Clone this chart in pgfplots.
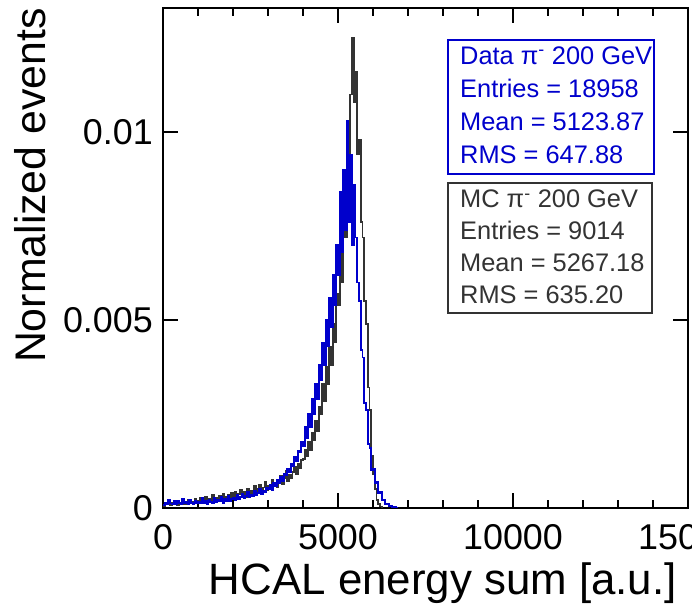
\documentclass[border=0pt]{standalone}
\usepackage{fontspec}
\setmainfont{Liberation Sans}
\usepackage{pgfplots}
\pgfplotsset{compat=1.18}
\definecolor{datablue}{RGB}{0,0,204}
\definecolor{mcgray}{RGB}{51,51,51}
\begin{document}
\begin{tikzpicture}
\begin{axis}[
    at={(163bp,98bp)}, anchor=south west,
    scale only axis, width=525bp, height=500bp,
    xmin=0, xmax=15000, ymin=0, ymax=0.0133,
    axis line style={line width=2bp},
    every tick/.style={black, line width=1.5bp},
    major tick length=15bp, minor tick length=8bp,
    xtick={0,5000,10000,15000}, minor x tick num=4,
    ytick={0,0.005,0.01},
    scaled x ticks=false, scaled y ticks=false,
    /pgf/number format/assume math mode=true,
    tick label style={font=\fontsize{36}{38}\selectfont, inner sep=0pt},
    x tick label style={/pgf/number format/1000 sep={}, anchor=north, yshift=-16bp},
    y tick label style={/pgf/number format/fixed, /pgf/number format/precision=3, anchor=east, xshift=-10bp},
    xlabel={HCAL energy sum [a.u.]},
    ylabel={Normalized events},
    xlabel style={at={(axis description cs:0.979,-0.174)}, anchor=base east, inner sep=0pt, font=\fontsize{44}{46}\selectfont},
    ylabel style={at={(axis description cs:-0.253,1.0)}, anchor=east, inner sep=0pt, font=\fontsize{43}{45}\selectfont},
]
% MC pi- 200 GeV
\addplot[mcgray, line width=1.6bp, const plot mark left] coordinates {
(0,0.00006)(50,0.00012)(100,0.00009)(150,0.00016)(200,0.00007)(250,0.00013)(300,0.00010)(350,0.00018)(400,0.00008)(450,0.00014)
(500,0.00011)(550,0.00019)(600,0.00009)(650,0.00015)(700,0.00022)(750,0.00012)(800,0.00017)(850,0.00010)(900,0.00025)(950,0.00014)
(1000,0.00018)(1050,0.00028)(1100,0.00013)(1150,0.00022)(1200,0.00030)(1250,0.00016)(1300,0.00024)(1350,0.00019)(1400,0.00034)(1450,0.00021)
(1500,0.00026)(1550,0.00017)(1600,0.00032)(1650,0.00024)(1700,0.00038)(1750,0.00020)(1800,0.00029)(1850,0.00036)(1900,0.00023)(1950,0.00040)
(2000,0.00031)(2050,0.00044)(2100,0.00027)(2150,0.00038)(2200,0.00048)(2250,0.00033)(2300,0.00042)(2350,0.00030)(2400,0.00052)(2450,0.00037)
(2500,0.00045)(2550,0.00036)(2600,0.00058)(2650,0.00041)(2700,0.00050)(2750,0.00062)(2800,0.00044)(2850,0.00055)(2900,0.00070)(2950,0.00048)
(3000,0.00058)(3050,0.00052)(3100,0.00075)(3150,0.00060)(3200,0.00068)(3250,0.00055)(3300,0.00072)(3350,0.00085)(3400,0.00062)(3450,0.00078)
(3500,0.00100)(3550,0.00072)(3600,0.00088)(3650,0.00080)(3700,0.00095)(3750,0.00110)(3800,0.00090)(3850,0.00118)(3900,0.00105)(3950,0.00128)
(4000,0.00130)(4050,0.00155)(4100,0.00138)(4150,0.00175)(4200,0.00155)(4250,0.00200)(4300,0.00180)(4350,0.00232)(4400,0.00205)(4450,0.00270)
(4500,0.00250)(4550,0.00330)(4600,0.00285)(4650,0.00375)(4700,0.00330)(4750,0.00430)(4800,0.00380)(4850,0.00490)(4900,0.00440)(4950,0.00570)
(5000,0.0054)(5050,0.0070)(5100,0.0060)(5150,0.0080)(5200,0.0072)(5250,0.0092)(5300,0.0086)(5350,0.0110)(5400,0.0125)(5450,0.0108)
(5500,0.0116)(5550,0.0094)(5600,0.0098)(5650,0.0076)(5700,0.0072)(5750,0.0055)(5800,0.0049)(5850,0.0032)(5900,0.0026)(5950,0.0014)
(6000,0.0009)(6050,0.0005)(6100,0.00022)(6150,0.0001)(6200,0.00004)(6250,0)
};
% Data pi- 200 GeV
\addplot[datablue, line width=1.6bp, const plot mark left] coordinates {
(0,0.00008)(50,0.00015)(100,0.00010)(150,0.00022)(200,0.00012)(250,0.00009)(300,0.00018)(350,0.00011)(400,0.00020)(450,0.00013)
(500,0.00010)(550,0.00024)(600,0.00012)(650,0.00016)(700,0.00009)(750,0.00021)(800,0.00014)(850,0.00011)(900,0.00019)(950,0.00013)
(1000,0.00017)(1050,0.00012)(1100,0.00026)(1150,0.00014)(1200,0.00020)(1250,0.00011)(1300,0.00023)(1350,0.00016)(1400,0.00013)(1450,0.00027)
(1500,0.00015)(1550,0.00022)(1600,0.00018)(1650,0.00030)(1700,0.00014)(1750,0.00025)(1800,0.00019)(1850,0.00033)(1900,0.00017)(1950,0.00024)
(2000,0.00028)(2050,0.00020)(2100,0.00035)(2150,0.00023)(2200,0.00030)(2250,0.00038)(2300,0.00025)(2350,0.00032)(2400,0.00042)(2450,0.00029)
(2500,0.00036)(2550,0.00031)(2600,0.00045)(2650,0.00034)(2700,0.00040)(2750,0.00052)(2800,0.00038)(2850,0.00047)(2900,0.00041)(2950,0.00055)
(3000,0.00050)(3050,0.00062)(3100,0.00048)(3150,0.00068)(3200,0.00058)(3250,0.00075)(3300,0.00066)(3350,0.00082)(3400,0.00071)(3450,0.00090)
(3500,0.00088)(3550,0.00105)(3600,0.00095)(3650,0.00118)(3700,0.00110)(3750,0.00135)(3800,0.00125)(3850,0.00152)(3900,0.00148)(3950,0.00175)
(4000,0.00165)(4050,0.00215)(4100,0.00185)(4150,0.00250)(4200,0.00215)(4250,0.00290)(4300,0.00250)(4350,0.00330)(4400,0.00290)(4450,0.00380)
(4500,0.00340)(4550,0.00440)(4600,0.00380)(4650,0.00500)(4700,0.00430)(4750,0.00560)(4800,0.00480)(4850,0.00620)(4900,0.00540)(4950,0.00700)
(5000,0.0062)(5050,0.0084)(5100,0.0068)(5150,0.0090)(5200,0.0074)(5250,0.0103)(5300,0.0076)(5350,0.0094)(5400,0.0070)(5450,0.0086)
(5500,0.0072)(5550,0.0060)(5600,0.0055)(5650,0.0042)(5700,0.0040)(5750,0.0028)(5800,0.0026)(5850,0.0017)(5900,0.0016)(5950,0.0010)
(6000,0.00105)(6050,0.00065)(6100,0.00070)(6150,0.00040)(6200,0.00042)(6250,0.00022)(6300,0.00022)(6350,0.00010)(6400,0.00010)(6450,0.00005)
(6500,0.00005)(6550,0.00002)(6600,0.00003)(6650,0)(6700,0)
};
\end{axis}
% stat boxes
\draw[datablue, line width=1.5bp] (448bp,566bp) rectangle (654bp,432bp);
\begin{scope}[every node/.style={anchor=base west, inner sep=0pt, font=\fontsize{25.5}{27}\selectfont}]
\node[text=datablue] at (460bp,541bp) {Data π\textsuperscript{-} 200 GeV};
\node[text=datablue] at (460bp,508bp) {Entries = 18958};
\node[text=datablue] at (460bp,475bp) {Mean = 5123.87};
\node[text=datablue] at (460bp,442bp) {RMS = 647.88};
\end{scope}
\draw[mcgray, line width=1.5bp] (448bp,423bp) rectangle (652bp,293bp);
\begin{scope}[every node/.style={anchor=base west, inner sep=0pt, font=\fontsize{25.5}{27}\selectfont}]
\node[text=mcgray] at (460bp,398bp) {MC π\textsuperscript{-} 200 GeV};
\node[text=mcgray] at (460bp,366bp) {Entries = 9014};
\node[text=mcgray] at (460bp,334bp) {Mean = 5267.18};
\node[text=mcgray] at (460bp,302bp) {RMS = 635.20};
\end{scope}
\pgfresetboundingbox
\path[use as bounding box] (0,0) rectangle (692bp,606bp);
\end{tikzpicture}
\end{document}
